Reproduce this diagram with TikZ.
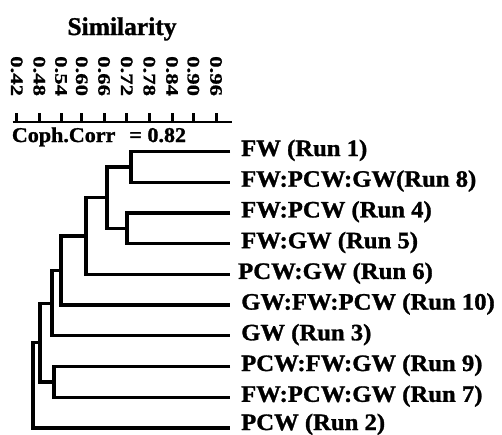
\documentclass[tikz,border=0pt]{standalone}
\usepackage{fontspec}
\setmainfont{Liberation Serif}
\newfontfamily\labfont[FakeStretch=1.05,FakeBold=1.2]{Liberation Serif}
\newfontfamily\titfont[FakeBold=1.2]{Liberation Serif}
\newfontfamily\tickfont[FakeStretch=1.3,FakeBold=1]{Liberation Serif}
\begin{document}
\begin{tikzpicture}[x=1pt,y=-1pt,
  tree/.style={line width=3.3pt, line join=miter},
  axisline/.style={line width=2.8pt},
  tickmark/.style={line width=3pt},
  leaflab/.style={anchor=base west, inner sep=0pt, font=\labfont\bfseries\fontsize{23.5}{28}\selectfont},
  ticklab/.style={rotate=-90, anchor=west, inner sep=0pt, font=\tickfont\bfseries\fontsize{17.5}{20}\selectfont},
  titlelab/.style={anchor=base, inner sep=0pt, font=\titfont\bfseries\fontsize{25.5}{30}\selectfont},
  corrlab/.style={anchor=base west, inner sep=0pt, font=\labfont\bfseries\fontsize{21}{25}\selectfont}]
\useasboundingbox (0,0) rectangle (502,434);

% title and axis
\node[titlelab] (title) at (122,35) {Similarity};
\coordinate (ax0) at (12.7,122);
\coordinate (ax1) at (231.7,122);
\draw[axisline] (ax0) -- (ax1);
\foreach \xx/\lab [count=\i] in {16.7/0.42, 39.3/0.48, 61/0.54, 81.7/0.60, 104/0.66, 126.7/0.72, 149.3/0.78, 172/0.84, 193.3/0.90, 216/0.96} {
  \coordinate (tb\i) at (\xx,122);
  \coordinate (tt\i) at (\xx,113);
  \draw[tickmark] (tb\i) -- (tt\i);
  \node[ticklab] (tl\i) at (\xx,56) {\lab};
}
\node[corrlab] (corr) at (11.7,142) {Coph.Corr\hspace{14pt}= 0.82};

% leaves
\coordinate (l1) at (230,151.5);
\coordinate (l2) at (230,182.2);
\coordinate (l3) at (230,212.9);
\coordinate (l4) at (230,243.7);
\coordinate (l5) at (230,274.4);
\coordinate (l6) at (230,305.1);
\coordinate (l7) at (230,335.8);
\coordinate (l8) at (230,366.5);
\coordinate (l9) at (230,397.3);
\coordinate (l10) at (230,428.0);

% internal nodes
\coordinate (A) at (131,166.85);
\coordinate (B) at (127,228.3);
\coordinate (C) at (107,197.6);
\coordinate (D) at (86,236.0);
\coordinate (E) at (61,270.55);
\coordinate (F) at (52,303.2);
\coordinate (G) at (54,381.9);
\coordinate (H) at (40,342.55);
\coordinate (R) at (33,385.3);

\draw[tree] (l1) -| (A) |- (l2);
\draw[tree] (l3) -| (B) |- (l4);
\draw[tree] (A) -| (C) |- (B);
\draw[tree] (C) -| (D) |- (l5);
\draw[tree] (D) -| (E) |- (l6);
\draw[tree] (E) -| (F) |- (l7);
\draw[tree] (l8) -| (G) |- (l9);
\draw[tree] (F) -| (H) |- (G);
\draw[tree] (H) -| (R) |- (l10);

% labels
\node[leaflab] (n1) at (241,156) {FW (Run 1)};
\node[leaflab] (n2) at (241,186.7) {FW:PCW:GW(Run 8)};
\node[leaflab] (n3) at (241,217.4) {FW:PCW (Run 4)};
\node[leaflab] (n4) at (241,248.2) {FW:GW (Run 5)};
\node[leaflab] (n5) at (238,278.9) {PCW:GW (Run 6)};
\node[leaflab] (n6) at (241,309.6) {GW:FW:PCW (Run 10)};
\node[leaflab] (n7) at (241,340.3) {GW (Run 3)};
\node[leaflab] (n8) at (241,371) {PCW:FW:GW (Run 9)};
\node[leaflab] (n9) at (241,401.8) {FW:PCW:GW (Run 7)};
\node[leaflab] (n10) at (241,430) {PCW (Run 2)};
\end{tikzpicture}
\end{document}
